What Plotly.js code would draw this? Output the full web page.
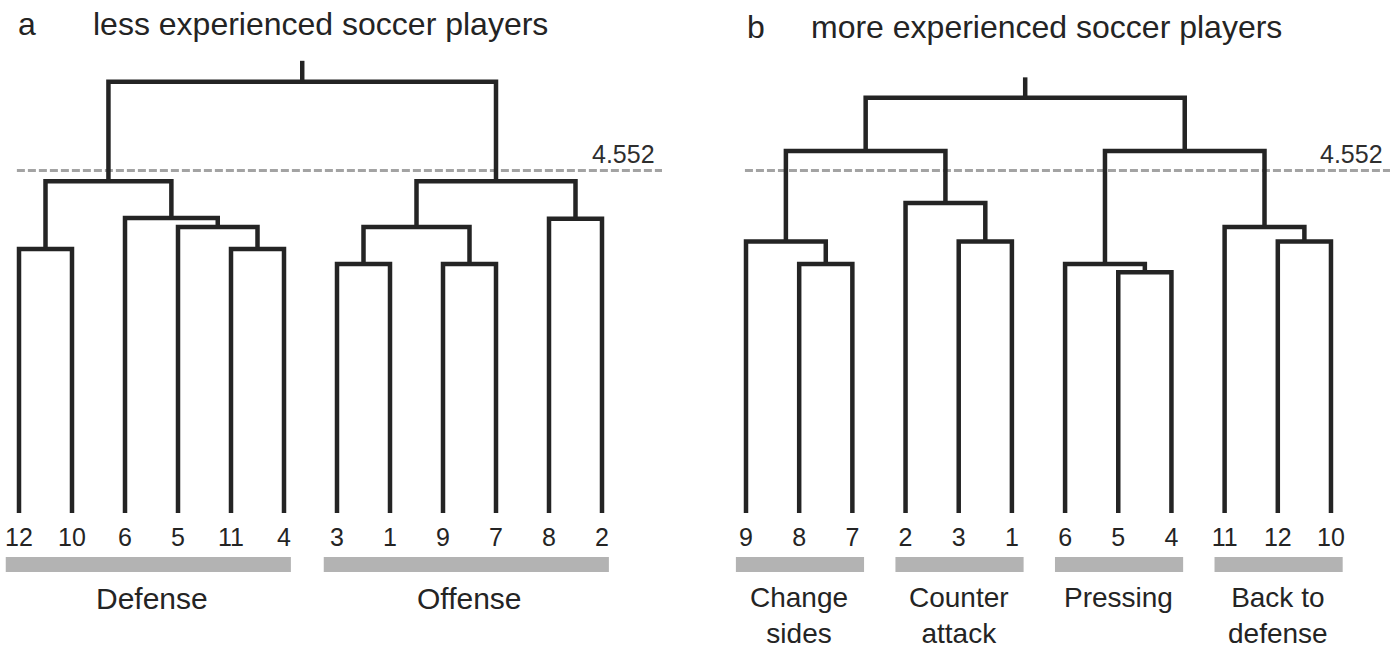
<!DOCTYPE html>
<html>
<head>
<meta charset="utf-8">
<script src="https://cdn.plot.ly/plotly-3.0.1.min.js"></script>
<style>html,body{margin:0;padding:0;background:#fff;}#chart{width:1400px;height:648px;}</style>
</head>
<body>
<div id="chart"></div>
<script>
// ---------- DATA ----------
const threshold = 4.552;

// Panel a: less experienced soccer players
const leavesA = ['12','10','6','5','11','4','3','1','9','7','8','2'];
// merges: node ids 0..11 are leaves, merge k gets id 12+k
const mergeLeftA   = [0, 4, 3,  2, 12, 6, 8, 17, 10, 19, 16];
const mergeRightA  = [1, 5, 13, 14, 15, 7, 9, 18, 11, 20, 21];
const mergeHeightA = [3.51, 3.51, 3.80, 3.92, 4.41, 3.31, 3.31, 3.80, 3.91, 4.41, 5.73];
const rootStemA = 6.01;
const groupNamesA = ['Defense', 'Offense'];
const groupStartA = [0, 6];
const groupEndA   = [5, 11];

// Panel b: more experienced soccer players
const leavesB = ['9','8','7','2','3','1','6','5','4','11','12','10'];
const mergeLeftB   = [1, 0,  4, 3,  13, 7, 6,  10, 9,  18, 16];
const mergeRightB  = [2, 12, 5, 14, 15, 8, 17, 11, 19, 20, 21];
const mergeHeightB = [3.31, 3.61, 3.61, 4.12, 4.81, 3.20, 3.31, 3.61, 3.80, 4.81, 5.52];
const rootStemB = 5.79;
const groupNamesB = ['Change<br>sides', 'Counter<br>attack', 'Pressing', 'Back to<br>defense'];
const groupStartB = [0, 3, 6, 9];
const groupEndB   = [2, 5, 8, 11];

// ---------- BUILD ----------
const W = 1400, H = 648;
const pxPerUnitY = (513 - 170.5) / threshold;
const yData = py => (513 - py) / pxPerUnitY;
const FONT = 'Liberation Sans, Arial, sans-serif';
const INK = '#242424';

function dendroPath(leaves, L, R, Hh, stem) {
  const nx = [], ny = [];
  leaves.forEach((_, i) => { nx.push(i); ny.push(0); });
  const xs = [], ys = [];
  for (let k = 0; k < L.length; k++) {
    const a = L[k], b = R[k], h = Hh[k];
    xs.push(nx[a], nx[a], nx[b], nx[b], null);
    ys.push(ny[a], h, h, ny[b], null);
    nx.push((nx[a] + nx[b]) / 2); ny.push(h);
  }
  const root = nx.length - 1;
  xs.push(nx[root], nx[root], null);
  ys.push(ny[root], stem, null);
  return {xs, ys};
}

function panel(leaves, L, R, Hh, stem, xa, ya) {
  const p = dendroPath(leaves, L, R, Hh, stem);
  return [
    {type: 'scatter', mode: 'lines', x: p.xs, y: p.ys, xaxis: xa, yaxis: ya,
     line: {color: INK, width: 4.5}, hoverinfo: 'skip', showlegend: false, connectgaps: false},
    {type: 'scatter', mode: 'text', x: leaves.map((_, i) => i), y: leaves.map(() => yData(540)),
     text: leaves, textposition: 'middle center', xaxis: xa, yaxis: ya,
     textfont: {family: FONT, size: 25, color: INK}, hoverinfo: 'skip', showlegend: false}
  ];
}

const spA = 53.0, offA = 19;
const spB = 53.18, offB = 46;

const data = [
  // threshold lines (beneath the trees)
  {type: 'scatter', mode: 'lines', x: [-0.04, (662 - offA) / spA], y: [threshold, threshold], xaxis: 'x', yaxis: 'y',
   line: {color: '#a3a3a3', width: 3.2, dash: '8px,3px'}, hoverinfo: 'skip', showlegend: false},
  {type: 'scatter', mode: 'lines', x: [-0.02, (1390 - 700 - offB) / spB], y: [threshold, threshold], xaxis: 'x2', yaxis: 'y2',
   line: {color: '#a3a3a3', width: 3.2, dash: '8px,3px'}, hoverinfo: 'skip', showlegend: false},
  ...panel(leavesA, mergeLeftA, mergeRightA, mergeHeightA, rootStemA, 'x', 'y'),
  ...panel(leavesB, mergeLeftB, mergeRightB, mergeHeightB, rootStemB, 'x2', 'y2')
];

const yr = [yData(H), yData(0)];
const hidden = {showgrid: false, zeroline: false, showticklabels: false, showline: false, ticks: '', fixedrange: true};

const shapes = [];
const annotations = [];
function groups(names, s, e, xa, ya, dl, dr, size) {
  names.forEach((t, i) => {
    shapes.push({type: 'rect', xref: xa, yref: ya, x0: s[i] - dl, x1: e[i] + dr,
      y0: yData(572), y1: yData(557), fillcolor: '#b3b3b3', line: {width: 0}, layer: 'below'});
    annotations.push({xref: xa, yref: ya, x: (s[i] + e[i]) / 2, y: yData(581), yanchor: 'top', xanchor: 'center',
      text: t, showarrow: false, borderpad: 0, font: {family: FONT, size: size, color: INK}});
  });
}
groups(groupNamesA, groupStartA, groupEndA, 'x', 'y', 0.25, 0.13, 30);
groups(groupNamesB, groupStartB, groupEndB, 'x2', 'y2', 0.19, 0.22, 28);

// panel letters, titles, threshold labels
const paperAnn = (text, px, py, xanchor, size) => ({xref: 'paper', yref: 'paper', x: px / W, y: 1 - py / H,
  xanchor: xanchor, yanchor: 'middle', text: text, showarrow: false, font: {family: FONT, size: size, color: INK}});
annotations.push(paperAnn('a', 16, 24, 'left', 32));
annotations.push(paperAnn('less experienced soccer players', 91, 24, 'left', 32));
annotations.push(paperAnn('b', 745, 27, 'left', 32));
annotations.push(paperAnn('more experienced soccer players', 809, 27, 'left', 32));
annotations.push({xref: 'x', yref: 'y', x: (657 - offA) / spA, y: yData(154), xanchor: 'right', yanchor: 'middle',
  text: threshold.toFixed(3), showarrow: false, font: {family: FONT, size: 25, color: '#2e2e2e'}});
annotations.push({xref: 'x2', yref: 'y2', x: (1385 - 700 - offB) / spB, y: yData(154), xanchor: 'right', yanchor: 'middle',
  text: threshold.toFixed(3), showarrow: false, font: {family: FONT, size: 25, color: '#2e2e2e'}});

const layout = {
  width: W, height: H, margin: {l: 0, r: 0, t: 0, b: 0}, paper_bgcolor: '#fff', plot_bgcolor: '#fff',
  showlegend: false,
  xaxis: Object.assign({domain: [0, 0.5], range: [-offA / spA, (700 - offA) / spA]}, hidden),
  xaxis2: Object.assign({domain: [0.5, 1], range: [-offB / spB, (700 - offB) / spB]}, hidden),
  yaxis: Object.assign({domain: [0, 1], range: yr}, hidden),
  yaxis2: Object.assign({domain: [0, 1], range: yr, anchor: 'x2'}, hidden),
  shapes: shapes, annotations: annotations
};
Plotly.newPlot('chart', data, layout, {displayModeBar: false, staticPlot: true});
</script>
</body>
</html>
